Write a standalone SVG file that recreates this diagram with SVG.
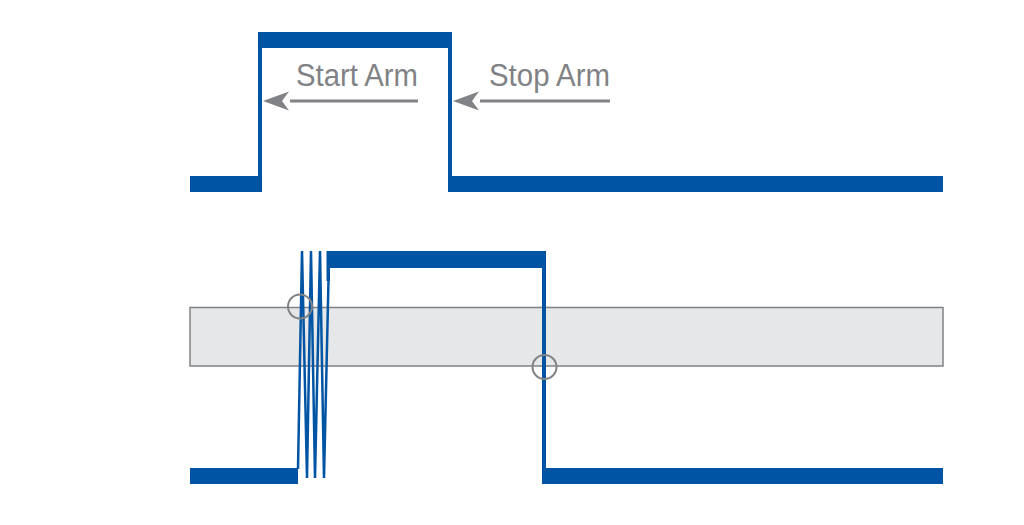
<svg xmlns="http://www.w3.org/2000/svg" width="1024" height="525" viewBox="0 0 1024 525">
<style>
.sig{fill:#0054a4}
.ring{fill:none;stroke:#0054a4;stroke-width:2.5;stroke-linejoin:miter}
.gray{fill:none;stroke:#808285}
.lbl{font-family:"Liberation Sans",Arial,sans-serif;font-size:31px;fill:#808285}
</style>
<defs>
<marker id="ah" viewBox="0 0 26 20" refX="1" refY="10" markerWidth="26" markerHeight="20" markerUnits="userSpaceOnUse" orient="auto-start-reverse">
<path d="M26,10 L0,0 L7,10 L0,20 Z" fill="#808285" transform="rotate(180 13 10)"/>
</marker>
</defs>
<rect width="1024" height="525" fill="#ffffff"/>
<g id="band">
<rect x="190" y="307.5" width="753" height="58.5" fill="#e6e7e8" stroke="#808285" stroke-width="1.5"/>
</g>
<g id="arm-signal">
<rect class="sig" x="190" y="176" width="72" height="16"/>
<rect class="sig" x="258" y="32" width="4" height="160"/>
<rect class="sig" x="258" y="32" width="194" height="16"/>
<rect class="sig" x="448" y="32" width="4" height="160"/>
<rect class="sig" x="448" y="176" width="495" height="16"/>
</g>
<g id="input-signal">
<rect class="sig" x="190" y="468" width="108" height="16"/>
<polyline class="ring" points="298,469 302,251 307,478 311,251 315,478 320,251 324,478 329,258"/>
<rect class="sig" x="327" y="251" width="219" height="17"/>
<rect class="sig" x="326.5" y="251" width="3.5" height="30"/>
<rect class="sig" x="542" y="251" width="4" height="233"/>
<rect class="sig" x="542" y="468" width="401" height="16"/>
</g>
<g id="crossings">
<circle class="gray" cx="300" cy="306.5" r="12" stroke-width="2"/>
<circle class="gray" cx="544.5" cy="367" r="12" stroke-width="2"/>
</g>
<g id="connectors">
<line x1="418" y1="101" x2="290" y2="101" stroke="#808285" stroke-width="3"/>
<path d="M263,101 L289,91.5 L282,101 L289,110.5 Z" fill="#808285"/>
<line x1="610" y1="101" x2="480" y2="101" stroke="#808285" stroke-width="3"/>
<path d="M453,101 L479,91.5 L472,101 L479,110.5 Z" fill="#808285"/>
</g>
<g id="labels">
<text class="lbl" x="296" y="86" textLength="122" lengthAdjust="spacingAndGlyphs">Start Arm</text>
<text class="lbl" x="489" y="86" textLength="121" lengthAdjust="spacingAndGlyphs">Stop Arm</text>
</g>
</svg>
